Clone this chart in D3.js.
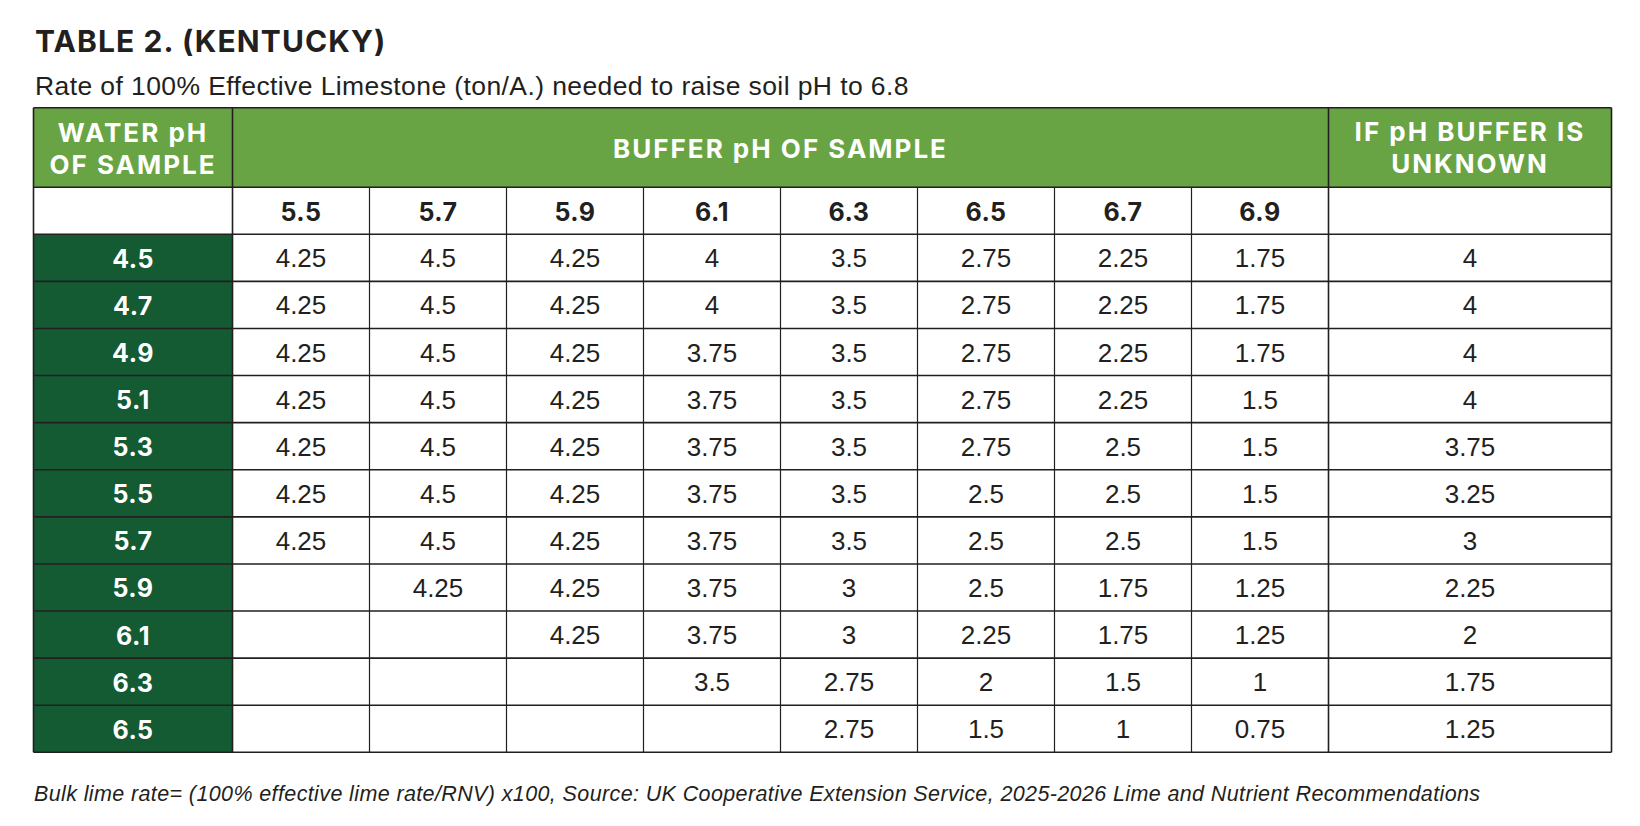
<!DOCTYPE html>
<html>
<head>
<meta charset="utf-8">
<script src="https://cdn.jsdelivr.net/npm/d3@7"></script>
<style>
  html, body { margin: 0; padding: 0; background: #fff; }
  svg { display: block; }
</style>
</head>
<body>
<div id="table"></div>
<script>
// table data
const title = "TABLE 2. (KENTUCKY)";
const subtitle = "Rate of 100% Effective Limestone (ton/A.) needed to raise soil pH to 6.8";
const footnote = "Bulk lime rate= (100% effective lime rate/RNV) x100, Source: UK Cooperative Extension Service, 2025-2026 Lime and Nutrient Recommendations";

const waterPH = ["4.5", "4.7", "4.9", "5.1", "5.3", "5.5", "5.7", "5.9", "6.1", "6.3", "6.5"];
const bufferPH = ["5.5", "5.7", "5.9", "6.1", "6.3", "6.5", "6.7", "6.9"];

// one row per water pH, one value per buffer pH (null = blank cell)
const limeRates = [
  [4.25, 4.5, 4.25, 4, 3.5, 2.75, 2.25, 1.75],
  [4.25, 4.5, 4.25, 4, 3.5, 2.75, 2.25, 1.75],
  [4.25, 4.5, 4.25, 3.75, 3.5, 2.75, 2.25, 1.75],
  [4.25, 4.5, 4.25, 3.75, 3.5, 2.75, 2.25, 1.5],
  [4.25, 4.5, 4.25, 3.75, 3.5, 2.75, 2.5, 1.5],
  [4.25, 4.5, 4.25, 3.75, 3.5, 2.5, 2.5, 1.5],
  [4.25, 4.5, 4.25, 3.75, 3.5, 2.5, 2.5, 1.5],
  [null, 4.25, 4.25, 3.75, 3, 2.5, 1.75, 1.25],
  [null, null, 4.25, 3.75, 3, 2.25, 1.75, 1.25],
  [null, null, null, 3.5, 2.75, 2, 1.5, 1],
  [null, null, null, null, 2.75, 1.5, 1, 0.75]
];
const unknownBuffer = [4, 4, 4, 4, 3.75, 3.25, 3, 2.25, 2, 1.75, 1.25];

const width = 1640;
const height = 826;

const lightGreen = "#68a443";
const darkGreen = "#145a33";
const ink = "#231f20";
const boldFont = "Inter, 'Open Sans', sans-serif";
const plainFont = "'Liberation Sans', Arial, sans-serif";

// layout of the grid
const left = 33.5, right = 1611.5;
const firstColRight = 232.5, lastColLeft = 1328.5;
const headTop = 107.7, headBottom = 187.3, subBottom = 234.3, tableBottom = 752.3;

const x = d3.scaleBand().domain(bufferPH).range([firstColRight, lastColLeft]);
const y = d3.scaleBand().domain(waterPH).range([subBottom, tableBottom]);
const lastMid = (lastColLeft + right) / 2;
const firstMid = (left + firstColRight) / 2;

const svg = d3.select("#table")
  .append("svg")
  .attr("width", width)
  .attr("height", height)
  .attr("viewBox", [0, 0, width, height]);

// title + subtitle
svg.append("text")
  .attr("x", 35).attr("y", 52)
  .attr("font-family", boldFont).attr("font-weight", 700)
  .attr("font-size", 30).attr("fill", ink)
  .attr("letter-spacing", 1.1)
  .text(title);

svg.append("text")
  .attr("x", 35).attr("y", 95)
  .attr("font-family", plainFont)
  .attr("font-size", 26.5).attr("fill", ink)
  .attr("letter-spacing", 0.4)
  .text(subtitle);

// header band
svg.append("rect")
  .attr("x", left).attr("y", headTop)
  .attr("width", right - left).attr("height", headBottom - headTop)
  .attr("fill", lightGreen);

// dark green row headers
svg.append("rect")
  .attr("x", left).attr("y", subBottom)
  .attr("width", firstColRight - left).attr("height", tableBottom - subBottom)
  .attr("fill", darkGreen);

const headText = (lines, cx, baselines) => {
  const t = svg.append("text")
    .attr("text-anchor", "middle")
    .attr("font-family", boldFont).attr("font-weight", 700)
    .attr("font-size", 26).attr("fill", "#fff")
    .attr("letter-spacing", 2);
  lines.forEach((l, i) => t.append("tspan").attr("x", cx).attr("y", baselines[i]).text(l));
};
headText(["WATER pH", "OF SAMPLE"], firstMid, [141.7, 174]);
headText(["BUFFER pH OF SAMPLE"], (firstColRight + lastColLeft) / 2, [157.7]);
headText(["IF pH BUFFER IS", "UNKNOWN"], lastMid, [140.7, 173.3]);

// buffer pH column labels
svg.append("g")
  .selectAll("text")
  .data(bufferPH)
  .join("text")
  .attr("x", d => x(d) + x.bandwidth() / 2)
  .attr("y", (headBottom + subBottom) / 2 + 10.5)
  .attr("text-anchor", "middle")
  .attr("font-family", boldFont).attr("font-weight", 700)
  .attr("font-size", 25).attr("fill", ink)
  .attr("letter-spacing", 0.5)
  .text(d => d);

// water pH row labels
svg.append("g")
  .selectAll("text")
  .data(waterPH)
  .join("text")
  .attr("x", firstMid)
  .attr("y", d => y(d) + y.bandwidth() / 2 + 10)
  .attr("text-anchor", "middle")
  .attr("font-family", boldFont).attr("font-weight", 700)
  .attr("font-size", 25).attr("fill", "#fff")
  .attr("letter-spacing", 0.5)
  .text(d => d);

// body cells
const cells = limeRates.flatMap((row, i) =>
  row.map((v, j) => ({ r: waterPH[i], c: bufferPH[j], v }))
).filter(d => d.v !== null);

svg.append("g")
  .selectAll("text")
  .data(cells)
  .join("text")
  .attr("x", d => x(d.c) + x.bandwidth() / 2)
  .attr("y", d => y(d.r) + y.bandwidth() / 2 + 9.5)
  .attr("text-anchor", "middle")
  .attr("font-family", plainFont)
  .attr("font-size", 26).attr("fill", ink)
  .text(d => d.v);

svg.append("g")
  .selectAll("text")
  .data(unknownBuffer)
  .join("text")
  .attr("x", lastMid)
  .attr("y", (d, i) => y(waterPH[i]) + y.bandwidth() / 2 + 9.5)
  .attr("text-anchor", "middle")
  .attr("font-family", plainFont)
  .attr("font-size", 26).attr("fill", ink)
  .text(d => d);

// grid lines
const grid = svg.append("g").attr("stroke", ink).attr("fill", "none");

// horizontal rules
const hRules = [headTop, headBottom, subBottom, ...waterPH.map(d => y(d) + y.bandwidth())];
grid.selectAll("line.h")
  .data(hRules)
  .join("line")
  .attr("class", "h")
  .attr("x1", left).attr("x2", right)
  .attr("y1", d => d).attr("y2", d => d)
  .attr("stroke-width", 1.6);

// verticals through the whole table
grid.selectAll("line.vfull")
  .data([left, firstColRight, lastColLeft, right])
  .join("line")
  .attr("class", "vfull")
  .attr("x1", d => d).attr("x2", d => d)
  .attr("y1", headTop).attr("y2", tableBottom)
  .attr("stroke-width", 1.6);

// verticals between buffer columns (below header band)
grid.selectAll("line.v")
  .data(bufferPH.slice(1))
  .join("line")
  .attr("class", "v")
  .attr("x1", d => x(d)).attr("x2", d => x(d))
  .attr("y1", headBottom).attr("y2", tableBottom)
  .attr("stroke-width", 1.2);

// footnote
svg.append("text")
  .attr("x", 34).attr("y", 801)
  .attr("font-family", plainFont).attr("font-style", "italic")
  .attr("font-size", 21.5).attr("fill", ink)
  .attr("letter-spacing", 0.38)
  .text(footnote);
</script>
</body>
</html>
